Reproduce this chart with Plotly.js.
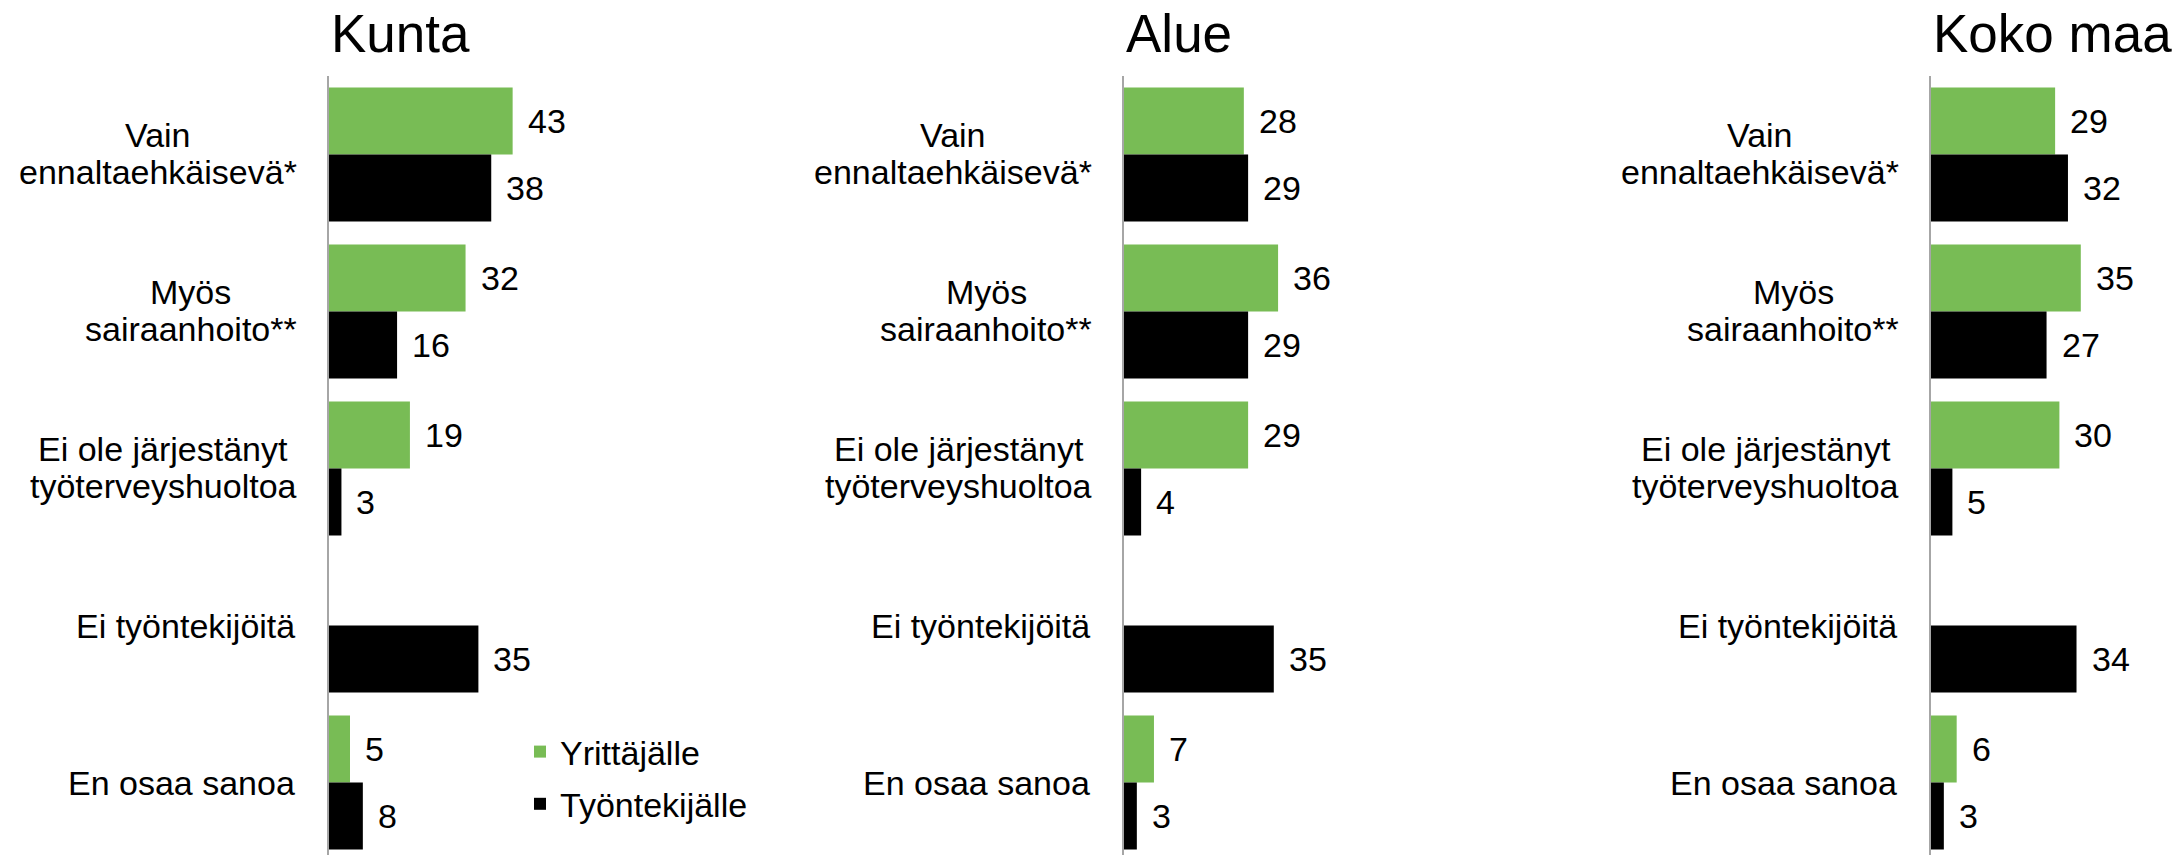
<!DOCTYPE html>
<html>
<head>
<meta charset="utf-8">
<script src="https://cdn.plot.ly/plotly-3.0.1.min.js"></script>
<style>
  html, body { margin: 0; padding: 0; background: #ffffff; }
  #chart { width: 2174px; height: 855px; }
</style>
</head>
<body>
<div id="chart"></div>
<script>
// ---- Data ----
const categories = [
  "Vain ennaltaehkäisevä*",
  "Myös sairaanhoito**",
  "Ei ole järjestänyt työterveyshuoltoa",
  "Ei työntekijöitä",
  "En osaa sanoa"
];
const categoryLines = [
  ["Vain", "ennaltaehkäisevä*"],
  ["Myös", "sairaanhoito**"],
  ["Ei ole järjestänyt", "työterveyshuoltoa"],
  ["Ei työntekijöitä"],
  ["En osaa sanoa"]
];
const panelTitles = ["Kunta", "Alue", "Koko maa"];
const seriesNames = ["Yrittäjälle", "Työntekijälle"];

const kuntaYrittajalle = [43, 32, 19, null, 5];
const kuntaTyontekijalle = [38, 16, 3, 35, 8];
const alueYrittajalle = [28, 36, 29, null, 7];
const alueTyontekijalle = [29, 29, 4, 35, 3];
const kokoMaaYrittajalle = [29, 35, 30, null, 6];
const kokoMaaTyontekijalle = [32, 27, 5, 34, 3];

const panelData = [
  [kuntaYrittajalle, kuntaTyontekijalle],
  [alueYrittajalle, alueTyontekijalle],
  [kokoMaaYrittajalle, kokoMaaTyontekijalle]
];

// ---- Styling / layout constants ----
const W = 2174, H = 855;
const FONT = '"Liberation Sans", Arial, Helvetica, sans-serif';
const FS = 34;
const colors = ["#78BC55", "#000000"];
const axisStartPx = [328.6, 1124, 1931];
const pxPerUnit = 4.28;
const xMax = 50;
const plotTopPx = 76;
const catPitch = 157;
const barHalfPx = 33.5;

const ctx = document.createElement("canvas").getContext("2d");
ctx.font = FS + "px " + FONT;
function textW(t) { return ctx.measureText(t).width; }

const traces = [];
const annotations = [];
const layout = {
  width: W, height: H,
  margin: { l: 0, r: 0, t: 0, b: 0, pad: 0 },
  paper_bgcolor: "#ffffff",
  plot_bgcolor: "rgba(0,0,0,0)",
  barmode: "group",
  bargap: 23 / catPitch,
  bargroupgap: 0,
  font: { family: FONT, size: FS, color: "#000000" },
  showlegend: true,
  legend: {
    x: 0.2392, y: 1 - 723 / H, xanchor: "left", yanchor: "top",
    bgcolor: "rgba(0,0,0,0)",
    font: { family: FONT, size: FS, color: "#000000" },
    traceorder: "grouped",
    tracegroupgap: 5,
    itemwidth: 30
  },
  annotations: annotations
};

const plotHeight = H - plotTopPx;
const rangeSpan = plotHeight / catPitch;

panelData.forEach((series, p) => {
  const sfx = p === 0 ? "" : String(p + 1);
  const xName = "x" + sfx, yName = "y" + sfx;
  const x0 = axisStartPx[p] / W;
  const x1 = (axisStartPx[p] + xMax * pxPerUnit) / W;
  layout["xaxis" + sfx] = {
    domain: [x0, x1], range: [0, xMax], anchor: yName,
    visible: false, showgrid: false, zeroline: false, fixedrange: true
  };
  layout["yaxis" + sfx] = {
    domain: [0, 1 - plotTopPx / H], anchor: xName,
    type: "category", categoryorder: "array", categoryarray: categories,
    range: [-0.5 + rangeSpan, -0.5],
    showticklabels: false, ticks: "", showgrid: false, zeroline: false,
    showline: true, linecolor: "#A6A6A6", linewidth: 2, fixedrange: true
  };
  series.forEach((vals, s) => {
    traces.push({
      type: "bar", orientation: "h",
      name: seriesNames[s],
      x: vals, y: categories,
      xaxis: xName, yaxis: yName,
      marker: { color: colors[s], line: { width: 0 } },
      legendgroup: "g" + s,
      showlegend: p === 0,
      hoverinfo: "skip"
    });
    vals.forEach((v, i) => {
      if (v === null) return;
      annotations.push({
        xref: xName, yref: yName, x: v, y: categories[i],
        text: String(v), showarrow: false,
        xanchor: "left", yanchor: "middle",
        xshift: 13, yshift: s === 0 ? barHalfPx : -barHalfPx,
        font: { family: FONT, size: FS, color: "#000000" }
      });
    });
  });
  // Panel title
  annotations.push({
    xref: "paper", yref: "paper", x: x0, y: 1 - 34 / H,
    xanchor: "left", yanchor: "middle", showarrow: false,
    text: panelTitles[p],
    font: { family: FONT, size: 53, color: "#000000" }
  });
  // Category labels
  const rightPx = axisStartPx[p] - 32;
  categoryLines.forEach((lines, i) => {
    if (lines.length === 1) {
      annotations.push({
        xref: "paper", yref: yName, x: rightPx / W, y: categories[i],
        xanchor: "right", yanchor: "middle", showarrow: false,
        text: lines[0], font: { family: FONT, size: FS, color: "#000000" }
      });
    } else {
      const maxW = Math.max(...lines.map(textW));
      const cx = rightPx - maxW / 2;
      const shifts = [20, -17];
      lines.forEach((ln, k) => {
        annotations.push({
          xref: "paper", yref: yName, x: cx / W, y: categories[i],
          xanchor: "center", yanchor: "middle", showarrow: false,
          yshift: shifts[k],
          text: ln, font: { family: FONT, size: FS, color: "#000000" }
        });
      });
    }
  });
});

Plotly.newPlot("chart", traces, layout, { displayModeBar: false, staticPlot: true });
</script>
</body>
</html>
